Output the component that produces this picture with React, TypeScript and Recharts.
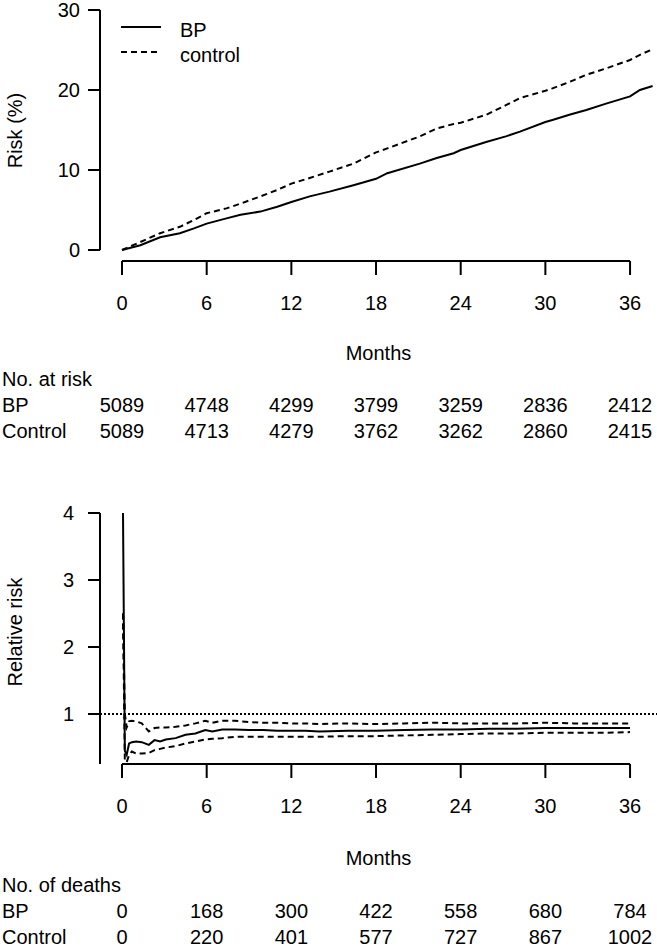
import { Line, LineChart, ReferenceLine, XAxis, YAxis } from "recharts";

// cumulative risk (%) by month
const riskMonths = [
  0, 1.3, 2.7, 4.1, 5.1, 6, 7.4, 8.4, 9.8, 11, 12, 13.3, 14.7, 16.4, 18, 18.8,
  21.1, 22.3, 23.5, 24, 25.8, 27.2, 28.2, 30, 30.5, 31.7, 32.9, 34.3, 36, 36.7,
  37.6,
];
const riskBP = [
  0, 0.6, 1.6, 2.1, 2.7, 3.3, 3.95, 4.4, 4.8, 5.4, 6.0, 6.7, 7.3, 8.1, 8.9, 9.6,
  10.8, 11.5, 12.1, 12.5, 13.5, 14.2, 14.8, 16.0, 16.25, 16.9, 17.5, 18.3, 19.2,
  20.0, 20.5,
];
const riskControl = [
  0, 1.0, 2.1, 2.9, 3.75, 4.6, 5.2, 5.8, 6.7, 7.5, 8.3, 9.0, 9.8, 10.8, 12.2,
  12.7, 14.2, 15.2, 15.75, 15.9, 16.9, 18.1, 19.0, 19.9, 20.2, 21.0, 21.9, 22.7,
  23.75, 24.4, 25.1,
];

// relative risk with confidence band
const rrMonths = [
  0.07, 0.2, 0.33, 0.5, 0.7, 1.0, 1.4, 1.9, 2.3, 2.7, 3.1, 3.8, 4.5, 5.2, 5.9,
  6.4, 7.1, 8, 9, 10, 11, 12, 13, 14, 16, 18, 20, 22, 24, 26, 28, 30, 32, 34, 36,
];
const rrValue = [
  4.0, 0.45, 0.39, 0.56, 0.58, 0.59, 0.58, 0.54, 0.61, 0.59, 0.62, 0.64, 0.69,
  0.71, 0.76, 0.74, 0.77, 0.77, 0.76, 0.76, 0.75, 0.75, 0.75, 0.74, 0.75, 0.75,
  0.76, 0.77, 0.77, 0.78, 0.78, 0.79, 0.79, 0.79, 0.79,
];
const rrUpper = [
  2.5, 1.0, 0.8, 0.89, 0.9, 0.89, 0.86, 0.74, 0.79, 0.8, 0.8, 0.81, 0.83, 0.86,
  0.9, 0.87, 0.9, 0.9, 0.88, 0.87, 0.87, 0.86, 0.86, 0.85, 0.86, 0.85, 0.86,
  0.87, 0.86, 0.86, 0.86, 0.87, 0.86, 0.86, 0.86,
];
const rrLower = [
  2.5, 0.3, 0.28, 0.39, 0.44, 0.41, 0.41, 0.42, 0.46, 0.48, 0.5, 0.52, 0.56,
  0.59, 0.62, 0.63, 0.64, 0.66, 0.66, 0.66, 0.66, 0.66, 0.66, 0.66, 0.67, 0.67,
  0.68, 0.69, 0.7, 0.71, 0.71, 0.72, 0.72, 0.72, 0.73,
];

const monthTicks = [0, 6, 12, 18, 24, 30, 36];
const riskTicks = [0, 10, 20, 30];
const rrTicks = [1, 2, 3, 4];

const atRiskBP = [5089, 4748, 4299, 3799, 3259, 2836, 2412];
const atRiskControl = [5089, 4713, 4279, 3762, 3262, 2860, 2415];
const deathsBP = [0, 168, 300, 422, 558, 680, 784];
const deathsControl = [0, 220, 401, 577, 727, 867, 1002];

const FONT = "'Liberation Sans', Arial, Helvetica, sans-serif";
const X_DOMAIN: [number, number] = [-1.56, 37.91];
const RISK_DOMAIN: [number, number] = [-1.375, 31.25];
const RR_DOMAIN: [number, number] = [0.254, 4.194];

const riskData = riskMonths.map((m, i) => ({
  month: m,
  bp: riskBP[i],
  control: riskControl[i],
}));
const rrData = rrMonths.map((m, i) => ({
  month: m,
  rr: rrValue[i],
  upper: rrUpper[i],
  lower: rrLower[i],
}));

const tickStyle = { fill: "#000", fontSize: 20, fontFamily: FONT };
const axisStroke = { stroke: "#000", strokeWidth: 2 };

function TableRows({
  top,
  title,
  rows,
}: {
  top: number;
  title: string;
  rows: { label: string; values: number[] }[];
}) {
  const txt = {
    position: "absolute" as const,
    fontSize: 20,
    lineHeight: "20px",
    fontFamily: FONT,
    whiteSpace: "nowrap" as const,
    color: "#000",
  };
  return (
    <>
      <div style={{ ...txt, left: 2, top: top - 10 }}>{title}</div>
      {rows.map((r, ri) => (
        <div key={r.label}>
          <div style={{ ...txt, left: 2, top: top + 26 * (ri + 1) - 10 }}>
            {r.label}
          </div>
          {r.values.map((v, i) => (
            <div
              key={i}
              style={{
                ...txt,
                left: 122 + (508 / 6) * i,
                top: top + 26 * (ri + 1) - 10,
                transform: "translateX(-50%)",
              }}
            >
              {v}
            </div>
          ))}
        </div>
      ))}
    </>
  );
}

export default function App() {
  return (
    <div
      style={{
        position: "absolute",
        left: 0,
        top: 0,
        width: 657,
        height: 947,
        background: "#fff",
        fontFamily: FONT,
      }}
    >
      <div style={{ position: "absolute", left: 0, top: 0 }}>
        <LineChart
          width={657}
          height={381}
          data={riskData}
          margin={{ top: 0, right: 0, bottom: 0, left: 0 }}
        >
          <XAxis
            dataKey="month"
            type="number"
            domain={X_DOMAIN}
            ticks={monthTicks}
            interval={0}
            height={120}
            axisLine={false}
            tickLine={axisStroke}
            tickSize={14}
            tickMargin={21}
            tick={tickStyle}
            label={{
              value: "Months",
              position: "center",
              dy: 32,
              fill: "#000",
              fontSize: 20,
              fontFamily: FONT,
            }}
          />
          <YAxis
            type="number"
            domain={RISK_DOMAIN}
            ticks={riskTicks}
            interval={0}
            width={100}
            axisLine={false}
            tickLine={axisStroke}
            tickSize={12}
            tickMargin={8}
            tick={tickStyle}
            label={{
              value: "Risk (%)",
              angle: -90,
              position: "center",
              dx: -35,
              fill: "#000",
              fontSize: 20,
              fontFamily: FONT,
            }}
          />
          <ReferenceLine
            segment={[
              { x: 0, y: RISK_DOMAIN[0] },
              { x: 36, y: RISK_DOMAIN[0] },
            ]}
            {...axisStroke}
          />
          <ReferenceLine
            segment={[
              { x: X_DOMAIN[0], y: 0 },
              { x: X_DOMAIN[0], y: 30 },
            ]}
            {...axisStroke}
          />
          <Line
            type="linear"
            dataKey="bp"
            stroke="#000"
            strokeWidth={2}
            dot={false}
            isAnimationActive={false}
          />
          <Line
            type="linear"
            dataKey="control"
            stroke="#000"
            strokeWidth={2}
            strokeDasharray="6 4"
            dot={false}
            isAnimationActive={false}
          />
        </LineChart>
      </div>

      {/* legend */}
      <svg
        style={{ position: "absolute", left: 0, top: 0 }}
        width={300}
        height={80}
      >
        <line x1={121} x2={161} y1={27} y2={27} stroke="#000" strokeWidth={2} />
        <line
          x1={121}
          x2={161}
          y1={52}
          y2={52}
          stroke="#000"
          strokeWidth={2}
          strokeDasharray="6 4"
        />
        <text x={180} y={30} dominantBaseline="central" fontSize={20} fontFamily={FONT}>
          BP
        </text>
        <text x={180} y={55} dominantBaseline="central" fontSize={20} fontFamily={FONT}>
          control
        </text>
      </svg>

      <TableRows
        top={379}
        title="No. at risk"
        rows={[
          { label: "BP", values: atRiskBP },
          { label: "Control", values: atRiskControl },
        ]}
      />

      <div style={{ position: "absolute", left: 0, top: 500 }}>
        <LineChart
          width={657}
          height={384}
          data={rrData}
          margin={{ top: 0, right: 0, bottom: 0, left: 0 }}
        >
          <XAxis
            dataKey="month"
            type="number"
            domain={X_DOMAIN}
            ticks={monthTicks}
            interval={0}
            height={120}
            axisLine={false}
            tickLine={axisStroke}
            tickSize={14}
            tickMargin={21}
            tick={tickStyle}
            label={{
              value: "Months",
              position: "center",
              dy: 34,
              fill: "#000",
              fontSize: 20,
              fontFamily: FONT,
            }}
          />
          <YAxis
            type="number"
            domain={RR_DOMAIN}
            ticks={rrTicks}
            interval={0}
            width={100}
            axisLine={false}
            tickLine={axisStroke}
            tickSize={12}
            tickMargin={14}
            tick={tickStyle}
            label={{
              value: "Relative risk",
              angle: -90,
              position: "center",
              dx: -35,
              fill: "#000",
              fontSize: 20,
              fontFamily: FONT,
            }}
          />
          <ReferenceLine
            segment={[
              { x: 0, y: RR_DOMAIN[0] },
              { x: 36, y: RR_DOMAIN[0] },
            ]}
            {...axisStroke}
          />
          <ReferenceLine
            segment={[
              { x: X_DOMAIN[0], y: RR_DOMAIN[0] },
              { x: X_DOMAIN[0], y: 4 },
            ]}
            {...axisStroke}
          />
          <ReferenceLine y={1} stroke="#000" strokeWidth={2} strokeDasharray="2 2" />
          <Line
            type="linear"
            dataKey="upper"
            stroke="#000"
            strokeWidth={2}
            strokeDasharray="6 4"
            dot={false}
            isAnimationActive={false}
          />
          <Line
            type="linear"
            dataKey="lower"
            stroke="#000"
            strokeWidth={2}
            strokeDasharray="6 4"
            dot={false}
            isAnimationActive={false}
          />
          <Line
            type="linear"
            dataKey="rr"
            stroke="#000"
            strokeWidth={2}
            dot={false}
            isAnimationActive={false}
          />
        </LineChart>
      </div>

      <TableRows
        top={885}
        title="No. of deaths"
        rows={[
          { label: "BP", values: deathsBP },
          { label: "Control", values: deathsControl },
        ]}
      />
    </div>
  );
}
